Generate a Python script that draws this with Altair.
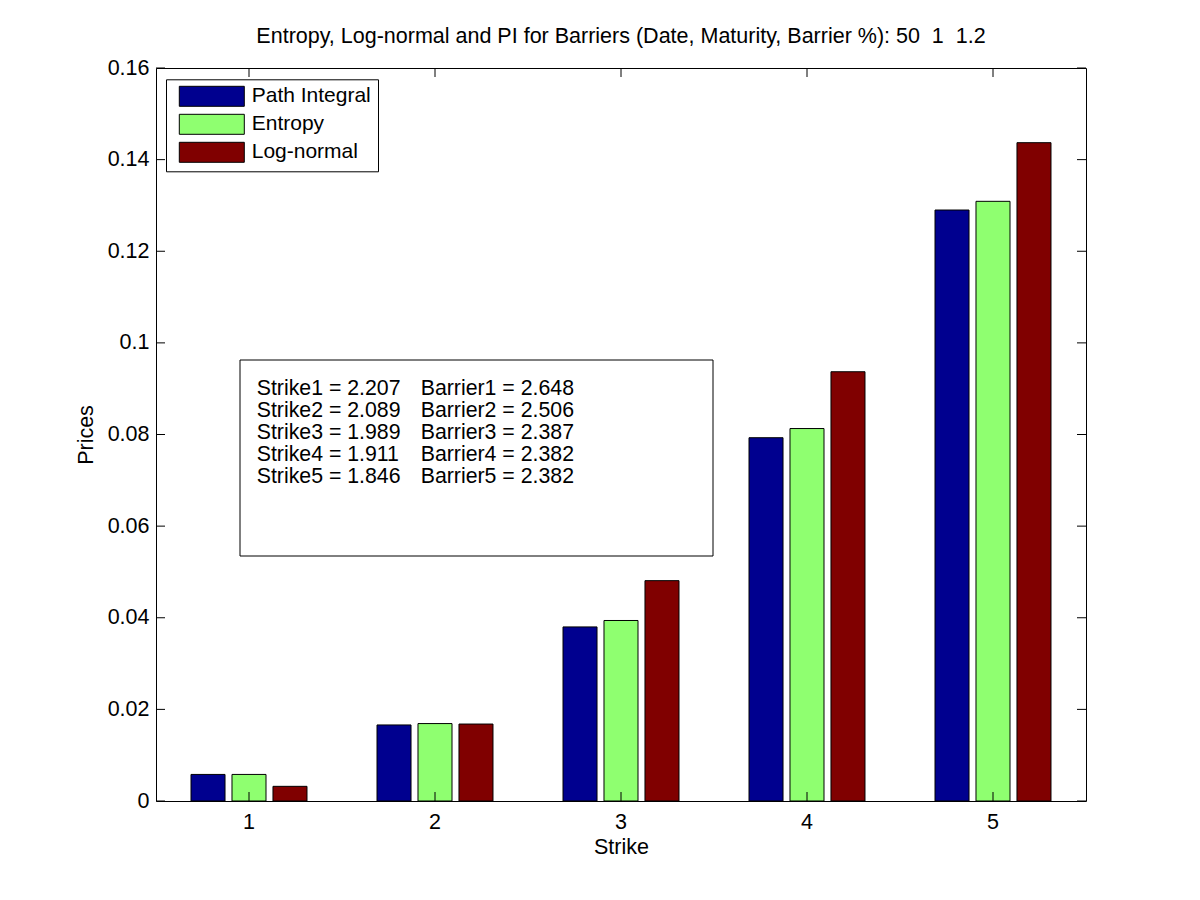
import altair as alt
import pandas as pd

# ---- data ----
strikes = [1, 2, 3, 4, 5]
series = ["Path Integral", "Entropy", "Log-normal"]
colors = ["#00008F", "#8FFF70", "#800000"]
path_integral = [0.0058, 0.0166, 0.0380, 0.0793, 0.1290]
entropy = [0.0058, 0.0169, 0.0394, 0.0813, 0.1309]
log_normal = [0.0032, 0.0168, 0.0481, 0.0937, 0.1437]
y_ticks = [0, 0.02, 0.04, 0.06, 0.08, 0.1, 0.12, 0.14, 0.16]
strike_values = ["2.207", "2.089", "1.989", "1.911", "1.846"]
barrier_values = ["2.648", "2.506", "2.387", "2.382", "2.382"]
title_text = "Entropy, Log-normal and PI for Barriers (Date, Maturity, Barrier %): 50\u00a0 1\u00a0 1.2"

FONT = "Liberation Sans"
W, H = 930, 733

rows = []
for name, vals in zip(series, [path_integral, entropy, log_normal]):
    for s, v in zip(strikes, vals):
        rows.append({"Strike": s, "Series": name, "Price": v})
df = pd.DataFrame(rows)

yscale = alt.Scale(domain=[0, 0.16], nice=False, zero=True)
xscale = alt.Scale(paddingInner=0, paddingOuter=0)

xaxis = alt.Axis(title="Strike", labelAngle=0, ticks=False, tickSize=0, domain=False,
                 labelFontSize=21.5, labelPadding=10, labelColor="black",
                 titleFontSize=21.5, titleFontWeight="normal", titlePadding=4,
                 titleColor="black", grid=False)
yaxis = alt.Axis(title="Prices", values=y_ticks, format="~g", ticks=False, tickSize=0,
                 domain=False, grid=False, labelFontSize=21.5, labelPadding=7,
                 labelColor="black", titleFontSize=21.5, titleFontWeight="normal",
                 titlePadding=10, titleColor="black")

bars = alt.Chart(df).mark_bar(stroke="black", strokeWidth=1, opacity=1).encode(
    x=alt.X("Strike:O", scale=xscale, axis=xaxis),
    xOffset=alt.XOffset("Series:N", sort=series,
                        scale=alt.Scale(paddingInner=0.17, paddingOuter=0.854)),
    y=alt.Y("Price:Q", scale=yscale, axis=yaxis),
    color=alt.Color("Series:N", sort=series,
                    scale=alt.Scale(domain=series, range=colors),
                    legend=alt.Legend(orient="none", legendX=10, legendY=11.3, title=None,
                                      symbolType="M-3.25,-1H3.25V1H-3.25Z", symbolSize=400,
                                      symbolStrokeColor="black", symbolStrokeWidth=1,
                                      symbolOffset=28.8, labelOffset=29.4, rowPadding=3,
                                      padding=6.5, labelFont=FONT, labelFontSize=21,
                                      labelColor="black", strokeColor="black",
                                      fillColor="white", cornerRadius=0)),
)

one = alt.Data(values=[{}])

box = alt.Chart(one).mark_rect(fill="white", stroke="black", strokeWidth=1).encode(
    x=alt.value(84), x2=alt.value(557), y=alt.value(292), y2=alt.value(488)
)

strike_lines = [f"Strike{i} = {v}" for i, v in zip(strikes, strike_values)]
barrier_lines = [f"Barrier{i} = {v}" for i, v in zip(strikes, barrier_values)]

text_strike = alt.Chart(one).mark_text(align="left", baseline="alphabetic", font=FONT,
                                       fontSize=21.3, lineHeight=22, color="black").encode(
    x=alt.value(100.7), y=alt.value(327), text=alt.value(strike_lines)
)
text_barrier = alt.Chart(one).mark_text(align="left", baseline="alphabetic", font=FONT,
                                        fontSize=21.3, lineHeight=22, color="black").encode(
    x=alt.value(264.7), y=alt.value(327), text=alt.value(barrier_lines)
)

ytick_df = pd.DataFrame({"Price": y_ticks})
xtick_df = pd.DataFrame({"Strike": strikes})
TL = 9
yt_left = alt.Chart(ytick_df).mark_rule(color="black", strokeWidth=1).encode(
    y=alt.Y("Price:Q", scale=yscale, axis=yaxis), x=alt.value(0), x2=alt.value(TL))
yt_right = alt.Chart(ytick_df).mark_rule(color="black", strokeWidth=1).encode(
    y=alt.Y("Price:Q", scale=yscale, axis=yaxis), x=alt.value(W - TL), x2=alt.value(W))
xt_bottom = alt.Chart(xtick_df).mark_rule(color="black", strokeWidth=1).encode(
    x=alt.X("Strike:O", scale=xscale, axis=xaxis), y=alt.value(H - TL), y2=alt.value(H))
xt_top = alt.Chart(xtick_df).mark_rule(color="black", strokeWidth=1).encode(
    x=alt.X("Strike:O", scale=xscale, axis=xaxis), y=alt.value(0), y2=alt.value(TL))

chart = alt.layer(bars, box, text_strike, text_barrier, yt_left, yt_right, xt_bottom, xt_top).properties(
    width=W, height=H,
    title=alt.TitleParams(text=title_text, font=FONT, fontSize=21.5, fontWeight="normal",
                          color="black", anchor="middle", frame="group", baseline="alphabetic",
                          offset=1, dy=8),
    autosize=alt.AutoSizeParams(type="none"),
    padding={"left": 148, "top": 60, "right": 100, "bottom": 85},
).configure(
    font=FONT, background="white"
).configure_view(
    stroke="black", strokeWidth=1
)

chart.save("out.html", embed_options={"renderer": "svg", "actions": False})
